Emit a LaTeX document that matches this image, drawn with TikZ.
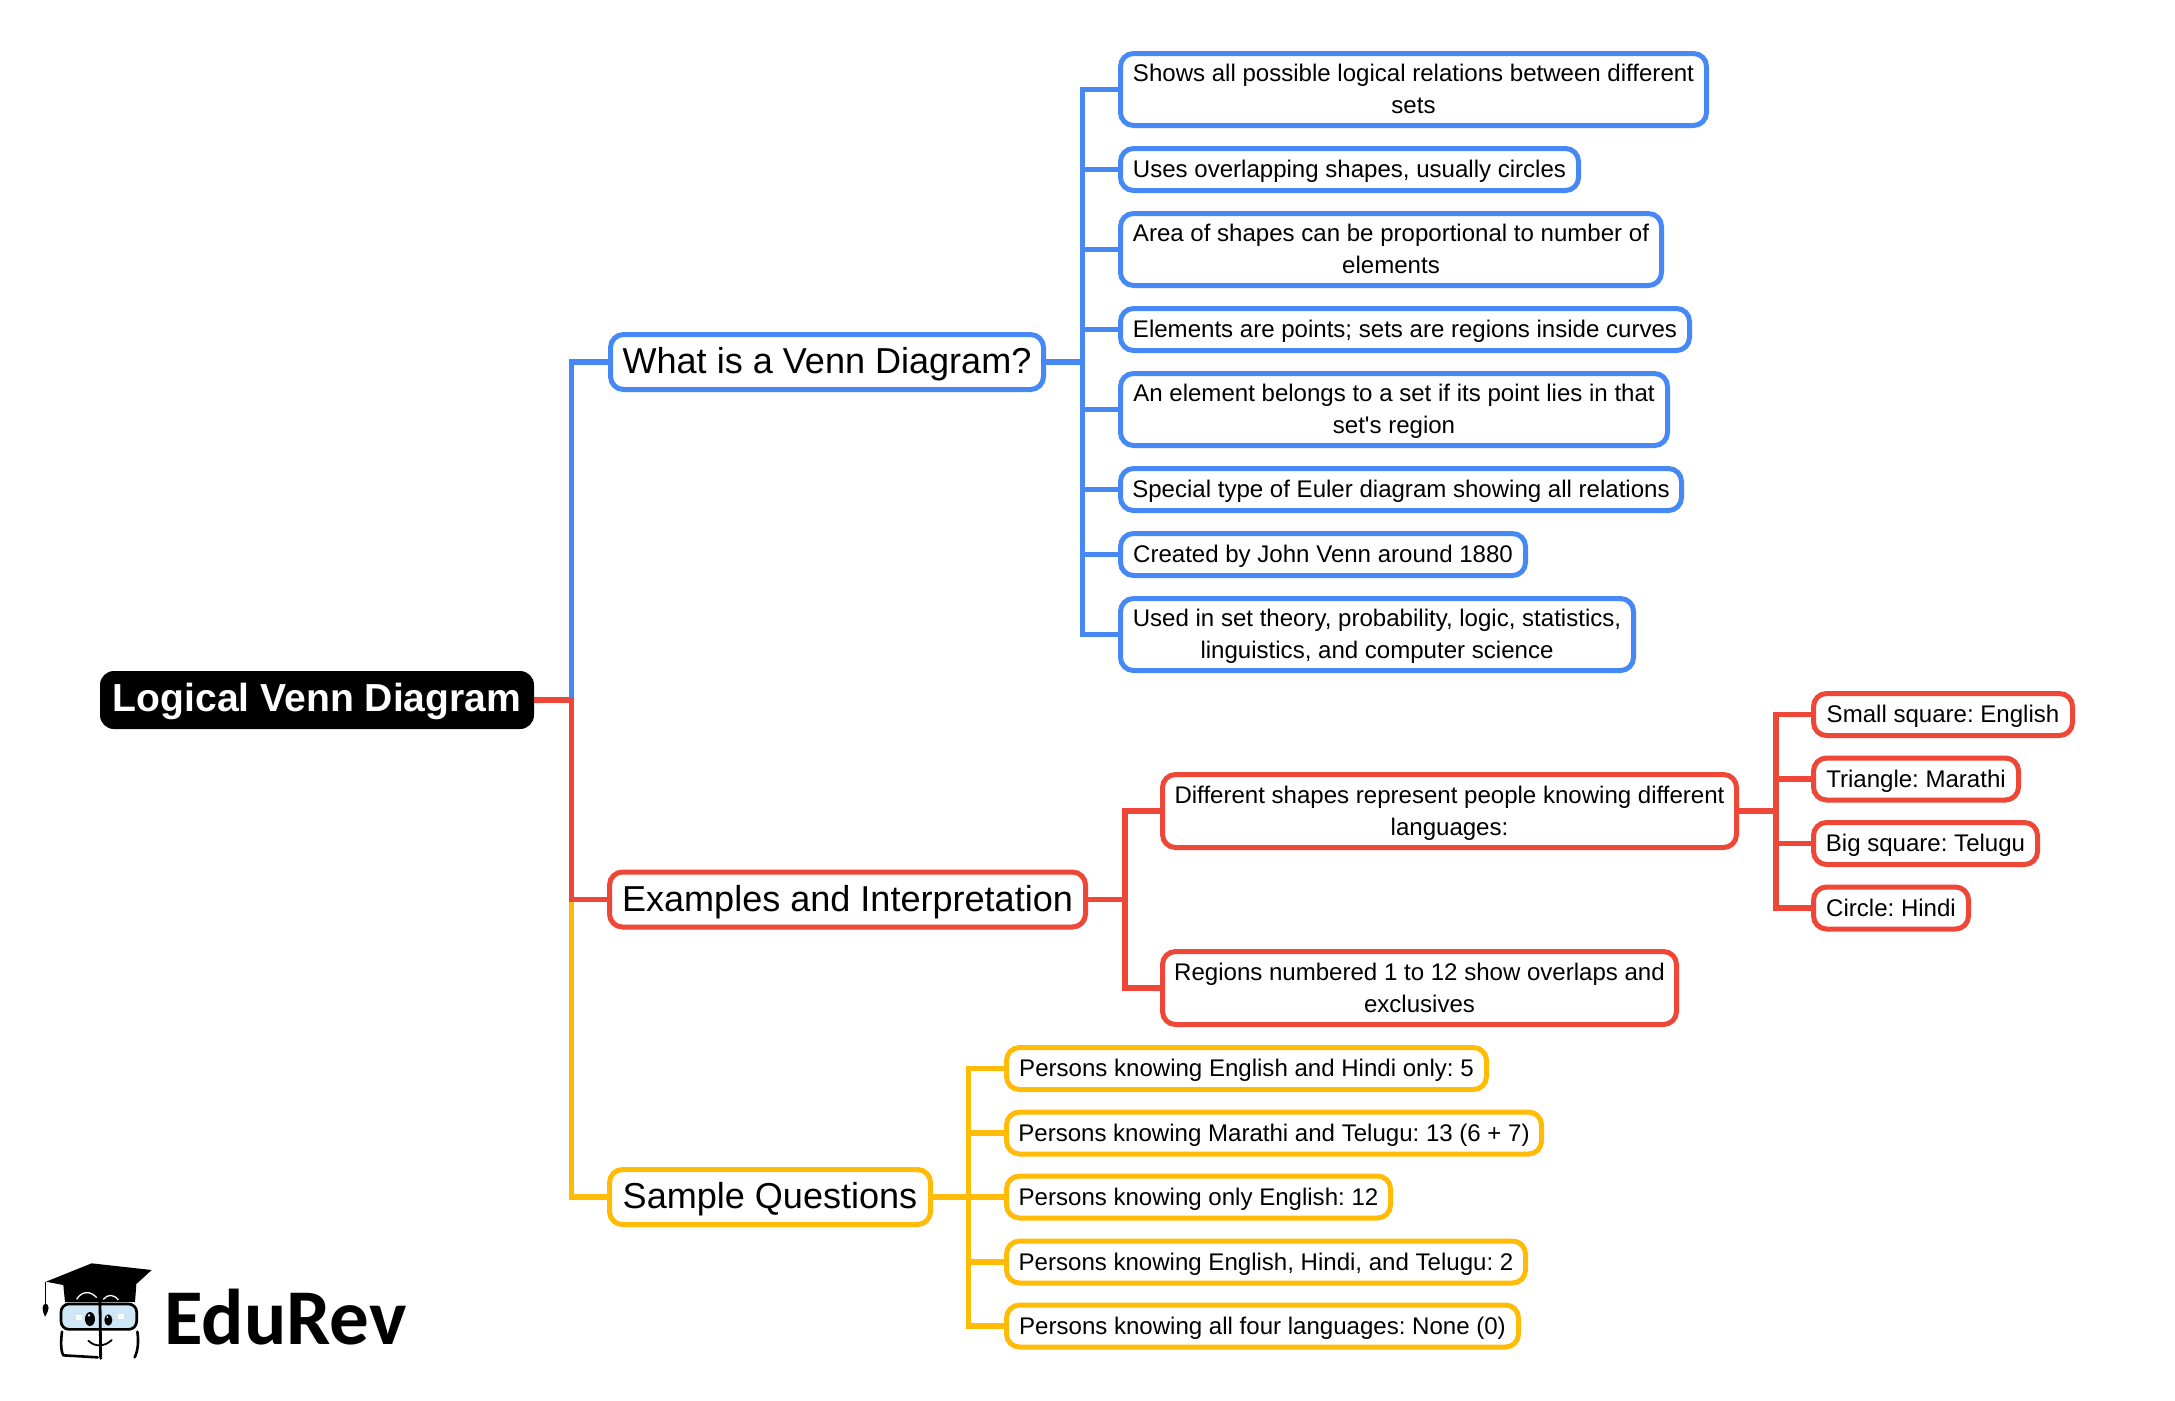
\documentclass[tikz,border=0pt]{standalone}
\usepackage{fontspec}
\setmainfont{Liberation Sans}
\newfontfamily\plainsans{Liberation Sans}
\newfontfamily\logofont{Carlito}
\frenchspacing
\definecolor{cblue}{HTML}{4688F4}
\definecolor{cred}{HTML}{EE4637}
\definecolor{cyel}{HTML}{FFBB05}
\definecolor{clens}{HTML}{CFE6F6}
\newcommand{\boxnode}[7]{% style, name, left, right, cy, outer h, text
  \pgfmathsetmacro{\bcx}{(#3+#4)/2}
  \pgfmathsetmacro{\bw}{#4-#3-5}
  \pgfmathsetmacro{\bh}{#6-5}
  \node[#1,minimum width=\bw pt,minimum height=\bh pt] (#2) at (\bcx,#5) {#7};
}
\newcommand{\lst}{\rule[-7.6pt]{0pt}{32pt}}
\newcommand{\tst}{\rule[-8.5pt]{0pt}{40pt}}
\newcommand{\rst}{\rule[-8pt]{0pt}{40pt}}
\tikzset{
  basebox/.style={draw,fill=white,rounded corners=13pt,inner sep=0pt,outer sep=0pt,line width=5pt,align=center,text=black},
  leaffont/.style={font=\fontsize{24.05}{32}\selectfont\frenchspacing},
  topfont/.style={font=\fontsize{36.05}{40}\selectfont\frenchspacing},
  bleaf/.style={basebox,leaffont,draw=cblue},
  rleaf/.style={basebox,leaffont,draw=cred},
  yleaf/.style={basebox,leaffont,draw=cyel},
  btop/.style={basebox,topfont,draw=cblue},
  rtop/.style={basebox,topfont,draw=cred},
  ytop/.style={basebox,topfont,draw=cyel},
  rootbox/.style={fill=black,text=white,rounded corners=14pt,inner sep=0pt,outer sep=0pt,align=center,font=\fontsize{39.1}{40}\selectfont\bfseries},
  bline/.style={draw=cblue,line width=5.2pt},
  rline/.style={draw=cred,line width=5.2pt},
  yline/.style={draw=cyel,line width=5.2pt},
  logoink/.style={draw=black,line width=2.6pt,line cap=round,line join=round},
}
\begin{document}
\begin{tikzpicture}[x=1pt,y=-1pt]
\useasboundingbox (0,0) rectangle (2175,1400);
\fill[white] (0,0) rectangle (2175,1400);
% junction coordinates
\coordinate (t0) at (571.5,700);
\coordinate (t1) at (1082.5,362);
\coordinate (t2) at (1125,899.5);
\coordinate (t3) at (1776,811);
\coordinate (t4) at (968.5,1197);
% nodes
\node[rootbox,minimum width=434pt,minimum height=58pt] (root) at (317,700) {\rst Logical Venn Diagram};
\boxnode{btop}{what}{608}{1046}{362}{60}{\tst What is a Venn Diagram?}
\boxnode{rtop}{ex}{607}{1088}{899.5}{60}{\tst Examples and Interpretation}
\boxnode{ytop}{sq}{607}{933}{1197}{60}{\tst Sample Questions}
\boxnode{bleaf}{b1}{1118}{1709}{89.5}{77}{\lst Shows all possible logical relations between different\\\lst sets}
\boxnode{bleaf}{b2}{1118}{1581}{169.5}{47}{\lst Uses overlapping shapes, usually circles}
\boxnode{bleaf}{b3}{1118}{1664}{249.5}{77}{\lst Area of shapes can be proportional to number of\\\lst elements}
\boxnode{bleaf}{b4}{1118}{1692}{329.5}{47}{\lst Elements are points; sets are regions inside curves}
\boxnode{bleaf}{b5}{1118}{1670}{409.5}{77}{\lst An element belongs to a set if its point lies in that\\\lst {\plainsans set's} region}
\boxnode{bleaf}{b6}{1118}{1684}{489.5}{47}{\lst Special type of Euler diagram showing all relations}
\boxnode{bleaf}{b7}{1118}{1528}{554.5}{47}{\lst Created by John Venn around 1880}
\boxnode{bleaf}{b8}{1118}{1636}{634.5}{77}{\lst Used in set theory, probability, logic, statistics,\\\lst linguistics, and computer science}
\boxnode{rleaf}{d}{1160}{1739}{811}{78}{\lst Different shapes represent people knowing different\\\lst languages:}
\boxnode{rleaf}{r}{1160}{1679}{988}{78}{\lst Regions numbered 1 to 12 show overlaps and\\\lst exclusives}
\boxnode{rleaf}{s1}{1811}{2075}{714.5}{47}{\lst Small square: English}
\boxnode{rleaf}{s2}{1811}{2021}{779}{47}{\lst Triangle: Marathi}
\boxnode{rleaf}{s3}{1811}{2040}{843.5}{47}{\lst Big square: Telugu}
\boxnode{rleaf}{s4}{1811}{1971}{908}{47}{\lst Circle: Hindi}
\boxnode{yleaf}{y1}{1004}{1489}{1068.5}{47}{\lst Persons knowing English and Hindi only: 5}
\boxnode{yleaf}{y2}{1004}{1544}{1133}{47}{\lst Persons knowing Marathi and Telugu: 13 (6 + 7)}
\boxnode{yleaf}{y3}{1004}{1393}{1197}{47}{\lst Persons knowing only English: 12}
\boxnode{yleaf}{y4}{1004}{1528}{1262}{47}{\lst Persons knowing English, Hindi, and Telugu: 2}
\boxnode{yleaf}{y5}{1004}{1521}{1326}{47}{\lst Persons knowing all four languages: None (0)}
% connectors
\draw[bline] (t0) |- (what.west);
\draw[yline] (t0 |- ex.west) |- (sq.west);
\draw[rline] (root.east) -- (t0) |- (ex.west);
\draw[bline] (what.east) -- (t1);
\foreach \n in {b1,b2,b3,b4,b5,b6,b7,b8} {\draw[bline] (t1) |- (\n.west);}
\draw[rline] (ex.east) -- (t2);
\foreach \n in {d,r} {\draw[rline] (t2) |- (\n.west);}
\draw[rline] (d.east) -- (t3);
\foreach \n in {s1,s2,s3,s4} {\draw[rline] (t3) |- (\n.west);}
\draw[yline] (sq.east) -- (t4);
\foreach \n in {y1,y2,y3,y4,y5} {\draw[yline] (t4) |- (\n.west);}
% logo
\begin{scope}[shift={(0,1200)},x=0.33333pt,y=-0.33333pt]
\fill[black] (190,255) -- (195,306) -- (405,306) -- (409,255) -- cycle;
\fill[clens,rounded corners=8pt] (183,312) rectangle (410,388);
\draw[black,line width=2.7pt,rounded corners=8pt] (183,312) rectangle (410,388);
\fill[black] (138,245) -- (275,190) -- (455,210) -- (368,290) -- cycle;
\draw[white,line width=1.3pt] (230,298) .. controls (245,272) and (272,272) .. (290,293);
\draw[white,line width=1.3pt] (310,298) .. controls (322,282) and (342,282) .. (355,300);
\draw[black,line width=1.2pt] (137,245) -- (137,312);
\fill[black] (137,310) .. controls (126,316) and (124,326) .. (135,350) .. controls (150,326) and (148,316) .. (137,310) -- cycle;
\draw[logoink] (186,395) .. controls (183,420) and (181,450) .. (190,466) -- (293,472);
\draw[logoink] (412,395) .. controls (416,420) and (415,450) .. (404,472);
\draw[logoink,line width=2.8pt] (300,306) -- (302,475);
\draw[logoink,line width=1.8pt] (265,422) .. controls (285,442) and (315,440) .. (335,420);
\fill[black] (270,357) ellipse [x radius=15,y radius=21];
\fill[black] (325,360) ellipse [x radius=12,y radius=17];
\fill[white] (267,346) circle [radius=4];
\fill[white] (322,351) circle [radius=3];
\fill[white] (228,344) rectangle (246,360);
\fill[white] (355,342) rectangle (372,358);
\end{scope}
\node[inner sep=0pt,anchor=base west,font=\fontsize{79}{80}\selectfont\logofont\bfseries] (logo) at (164,1344) {EduRev};
\end{tikzpicture}
\end{document}
